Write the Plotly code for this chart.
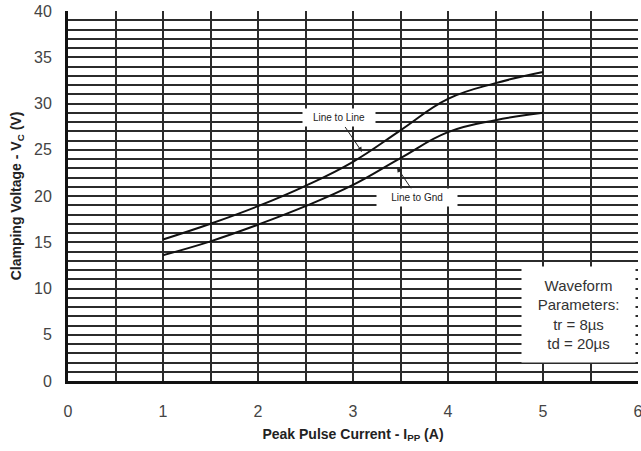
import plotly.graph_objects as go

# Data
current_a = [1, 1.5, 2, 2.5, 3, 3.5, 4, 4.5, 5]
line_to_line_v = [15.3, 17.0, 18.9, 21.1, 23.7, 27.1, 30.5, 32.2, 33.4]
line_to_gnd_v = [13.6, 15.1, 16.9, 18.9, 21.2, 24.1, 26.9, 28.2, 29.0]

x_ticks = [0, 1, 2, 3, 4, 5, 6]
y_ticks = [0, 5, 10, 15, 20, 25, 30, 35, 40]

FONT = "Liberation Sans, Arial, sans-serif"
GRID = "#2b2b2b"

fig = go.Figure()
fig.add_trace(go.Scatter(x=current_a, y=line_to_line_v, mode="lines",
                         line=dict(color="#111", width=2, shape="spline", smoothing=1.2),
                         name="Line to Line", showlegend=False))
fig.add_trace(go.Scatter(x=current_a, y=line_to_gnd_v, mode="lines",
                         line=dict(color="#111", width=2, shape="spline", smoothing=1.2),
                         name="Line to Gnd", showlegend=False))

fig.update_layout(
    width=641, height=451,
    margin=dict(l=68, r=3, t=11, b=70, autoexpand=False),
    paper_bgcolor="white", plot_bgcolor="white",
    font=dict(family=FONT, color="#444"),
    showlegend=False,
)

fig.update_xaxes(
    range=[0, 6], tickvals=x_ticks, ticktext=[str(v) for v in x_ticks],
    showgrid=True, gridcolor=GRID, gridwidth=1.5,
    minor=dict(dtick=0.5, showgrid=True, gridcolor=GRID, gridwidth=1.5),
    showline=True, linecolor="#111", linewidth=3,
    tickfont=dict(size=16, color="#444"), ticks="", ticklabelstandoff=14,
    ticklabeloverflow="allow",
    zeroline=False, automargin=False,
    title=dict(text="<b>Peak Pulse Current - I<sub>PP</sub> (A)</b>",
               font=dict(size=14, color="#222"), standoff=10),
)
fig.update_yaxes(
    range=[0, 40], tickvals=y_ticks, ticktext=[str(v) for v in y_ticks],
    showgrid=True, gridcolor=GRID, gridwidth=1.5,
    minor=dict(dtick=1, showgrid=True, gridcolor=GRID, gridwidth=1.5),
    showline=True, linecolor="#111", linewidth=3,
    tickfont=dict(size=16, color="#444"), ticks="", ticklabelstandoff=10,
    ticklabeloverflow="allow",
    zeroline=False, automargin=False,
    title=dict(text="<b>Clamping Voltage - V<sub>C</sub> (V)</b>",
               font=dict(size=14, color="#222"), standoff=10),
)

fig.add_annotation(x=3.095, y=24.76, xref="x", yref="y", text="Line to Line",
                   font=dict(size=10, color="#222", family=FONT),
                   showarrow=True, arrowhead=2, arrowsize=1, arrowwidth=1,
                   arrowcolor="#222", ax=-23, ay=-34,
                   bgcolor="white", borderpad=3, width=66)
fig.add_annotation(x=3.463, y=23.1, xref="x", yref="y", text="Line to Gnd",
                   font=dict(size=10, color="#222", family=FONT),
                   showarrow=True, arrowhead=2, arrowsize=1, arrowwidth=1,
                   arrowcolor="#222", ax=20, ay=30,
                   bgcolor="white", borderpad=3, width=74)
fig.add_annotation(x=5.374, y=7.19, xref="x", yref="y",
                   text="Waveform<br>Parameters:<br>tr = 8µs<br>td = 20µs",
                   font=dict(size=15, color="#333", family=FONT),
                   showarrow=False, bgcolor="white", borderpad=0,
                   width=113, height=95, align="center")

fig.write_html("out.html", config={"displayModeBar": False},
               post_script="document.body.style.margin='0';document.body.style.padding='0';")
